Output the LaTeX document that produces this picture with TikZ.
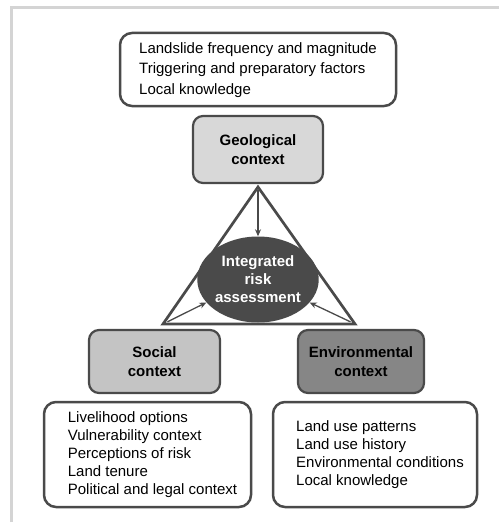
\documentclass[tikz,border=0pt]{standalone}
\usepackage{fontspec}
\setmainfont{Liberation Sans}
\usepackage{tikz}
\usetikzlibrary{shapes.geometric,arrows.meta}
\definecolor{edgegray}{HTML}{4A4A4A}
\definecolor{framegray}{HTML}{D4D4D4}
\definecolor{geogray}{HTML}{D8D8D8}
\definecolor{socgray}{HTML}{C4C4C4}
\definecolor{envgray}{HTML}{868686}
\definecolor{riskgray}{HTML}{4A4A4A}
\tikzset{
  font={\fontsize{15pt}{18pt}\selectfont}}

\begin{document}
\begin{tikzpicture}[x=1pt,y=-1pt]
\tikzstyle{every node}+=[inner sep=0pt]
\tikzstyle{listbox}=[draw=edgegray, line width=2.5pt, rounded corners=12pt, fill=white]
\tikzstyle{ctxbox}=[draw=edgegray, line width=2.2pt, rounded corners=10pt, align=center, font={\fontsize{15pt}{19.5pt}\selectfont\bfseries}]
\tikzstyle{conn}=[draw=edgegray, line width=1.3pt, -{Stealth[length=7pt,width=6pt]}]
\useasboundingbox (0,0) rectangle (499,527);
% page frame
\draw [framegray, line width=3pt] (11.5,522) -- (11.5,7.5) -- (499,7.5);
% top list
\node [listbox, minimum width=276pt, minimum height=73pt] (geolist) at (258,69.5)
  {\fontsize{15pt}{20.5pt}\selectfont\begin{tabular}{@{}l@{}}Landslide frequency and magnitude\\Triggering and preparatory factors\\Local knowledge\end{tabular}};
% context boxes
\node [ctxbox, fill=geogray, minimum width=130pt, minimum height=67pt] (geo) at (258,149.5) {Geological\\context};
\node [ctxbox, fill=socgray, minimum width=131pt, minimum height=63pt] (social) at (154.5,361.5) {Social\\context};
\node [ctxbox, fill=envgray, minimum width=126pt, minimum height=63pt] (env) at (361,361.5) {Environmental\\context};
% triangle
\coordinate (apex) at (258,187);
\coordinate (baseL) at (163,324);
\coordinate (baseR) at (355,324);
\draw [edgegray, line width=2.7pt] (apex) -- (baseL) -- (baseR) -- cycle;
\node [ellipse, fill=riskgray, minimum width=118pt, minimum height=86pt, text=white, align=center,
  font={\fontsize{15pt}{18pt}\selectfont\bfseries}] (risk) at (258,279.5) {Integrated\\risk\\assessment};
\draw [conn, shorten <=3pt] (apex) -- (risk.north);
\draw [conn, shorten <=5pt] (baseL) -- (risk.204);
\draw [conn, shorten <=5pt] (baseR) -- (risk.336);
% bottom lists
\node [listbox, minimum width=207pt, minimum height=105pt] (soclist) at (147.5,454.5)
  {\begin{tabular}{@{\hspace{10pt}}l@{}}Livelihood options\\Vulnerability context\\Perceptions of risk\\Land tenure\\Political and legal context\end{tabular}};
\node [listbox, minimum width=204pt, minimum height=105pt] (envlist) at (375,454.5)
  {\begin{tabular}{@{\hspace{10pt}}l@{}}Land use patterns\\Land use history\\Environmental conditions\\Local knowledge\end{tabular}};
\end{tikzpicture}
\end{document}
